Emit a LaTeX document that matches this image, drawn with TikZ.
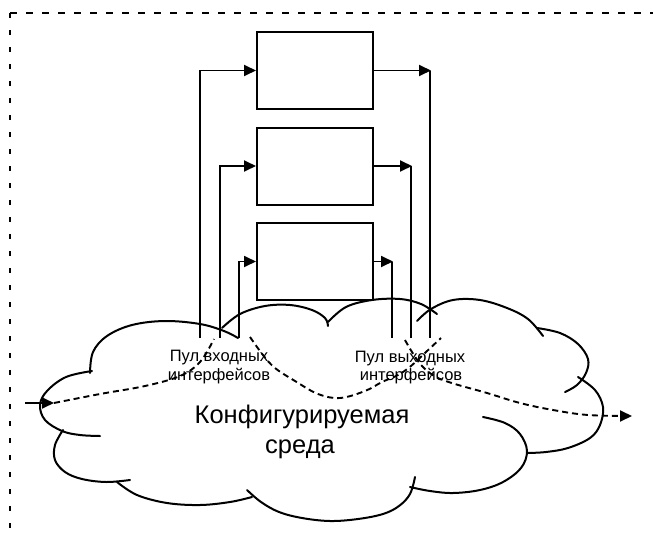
\documentclass[tikz,border=0pt]{standalone}
\usepackage{fontspec}
\setmainfont{Liberation Sans}
\usetikzlibrary{arrows.meta}
\begin{document}
\begin{tikzpicture}[x=1pt,y=-1pt,
  unitbox/.style={draw, line width=2pt, minimum width=116pt, minimum height=77pt, inner sep=0pt},
  link/.style={line width=1.8pt},
  tipped/.style={-{Triangle[length=12pt,width=11pt]}},
  route/.style={line width=1.9pt, dash pattern=on 6pt off 4pt},
  lobe/.style={line width=2pt, line cap=round},
  poolfont/.style={font=\fontsize{16.5}{19}\selectfont, inner sep=0pt, anchor=base},
  envfont/.style={font=\fontsize{25.5}{30}\selectfont, inner sep=0pt, anchor=base}]
\useasboundingbox (0,0) rectangle (653,533);

% enclosing dashed frame (top and left edges)
\draw[line width=2pt, dash pattern=on 6.5pt off 9.5pt] (10,13) -- (653,13);
\draw[line width=2pt, dash pattern=on 5pt off 12pt] (10,13) -- (10,533);

% processing units
\node[unitbox] (b1) at (315,70.5) {};
\node[unitbox] (b2) at (315,166) {};
\node[unitbox] (b3) at (315,261.5) {};

% input interface lines
\coordinate (i1) at (200,338);
\coordinate (i2) at (220,338);
\coordinate (i3) at (239,338);
\draw[link,tipped] (i1) |- (b1.west);
\draw[link,tipped] (i2) |- (b2.west);
\draw[link,tipped] (i3) |- (b3.west);

% output interface lines
\coordinate (c1) at (431,70.5);
\coordinate (c2) at (412,166);
\coordinate (c3) at (393,261.5);
\coordinate (o1) at (430,338);
\coordinate (o2) at (411,338);
\coordinate (o3) at (392,338);
\draw[link,tipped] (b1.east) -- (c1);
\draw[link,tipped] (b2.east) -- (c2);
\draw[link,tipped] (b3.east) -- (c3);
\draw[link] (o1 |- c1) -- (o1);
\draw[link] (o2 |- c2) -- (o2);
\draw[link] (o3 |- c3) -- (o3);

% cloud outline, lobe by lobe
\draw[lobe] plot[smooth, tension=0.6] coordinates {(92,371) (66,377) (47,391) (40,405) (45,420) (62,431) (80,435) (100,436)};
\draw[lobe] plot[smooth, tension=0.6] coordinates {(90,373) (93,352) (107,336) (132,325) (165,321) (200,324) (224,331) (238,338)};
\draw[lobe] plot[smooth, tension=0.6] coordinates {(222,328) (240,314) (265,306) (290,305) (312,310) (325,318) (328,326)};
\draw[lobe] plot[smooth, tension=0.6] coordinates {(328,322) (346,307) (372,300) (400,299) (421,304) (437,314)};
\draw[lobe] plot[smooth, tension=0.6] coordinates {(417,321) (431,309) (453,300) (480,300) (507,308) (528,319) (543,336)};
\draw[lobe] plot[smooth, tension=0.6] coordinates {(537,328) (560,333) (578,344) (588,359) (586,373) (577,385) (565,392)};
\draw[lobe] plot[smooth, tension=0.6] coordinates {(578,377) (595,390) (603,407) (600,425) (590,438) (568,448) (546,452) (527,453)};
\draw[lobe] plot[smooth, tension=0.6] coordinates {(483,417) (505,423) (520,434) (527,451) (521,468) (503,482) (480,490) (453,493) (430,491) (410,487)};
\draw[lobe] plot[smooth, tension=0.6] coordinates {(415,477) (410,494) (399,506) (383,514) (358,519) (330,521) (302,518) (279,512) (261,502) (247,490)};
\draw[lobe] plot[smooth, tension=0.6] coordinates {(117,482) (137,495) (167,503) (200,505) (230,502) (252,497)};
\draw[lobe] plot[smooth, tension=0.6] coordinates {(63,430) (55,445) (55,460) (65,472) (82,479) (106,482) (130,480)};

% signal route through the environment
\coordinate (src) at (25,403);
\coordinate (entry) at (54,403);
\coordinate (sink) at (632,416);
\draw[link,tipped] (src) -- (entry);
\draw[route] plot[smooth, tension=0.6] coordinates {(entry) (100,394) (145,386) (180,376) (200,362) (214,339)};
\draw[route] plot[smooth, tension=0.6] coordinates {(250,337) (263,355) (275,368) (295,381) (318,394) (340,398) (365,391) (382,382) (398,375) (411,366) (426,352) (441,338)};
\draw[route,tipped] plot[smooth, tension=0.6] coordinates {(405,340) (412,352) (422,366) (436,377) (455,384) (487,393) (520,403) (553,410) (588,415) (sink)};

% labels
\node[poolfont] (inA) at (219,361) {Пул входных};
\node[poolfont] (inB) at (219,380) {интерфейсов};
\node[poolfont] (outA) at (410,362) {Пул выходных};
\node[poolfont] (outB) at (411,380) {интерфейсов};
\node[envfont] (envA) at (302,423) {Конфигурируемая};
\node[envfont] (envB) at (300,453) {среда};
\end{tikzpicture}
\end{document}
